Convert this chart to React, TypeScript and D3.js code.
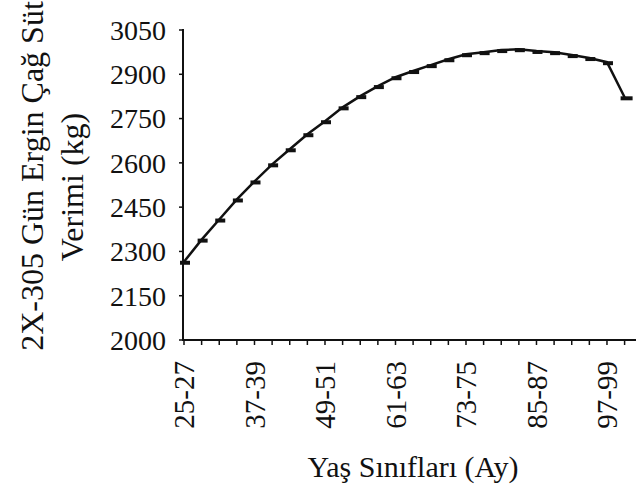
import React from "react";
import * as d3 from "d3";

const categories = [
  "25-27", "28-30", "31-33", "34-36", "37-39", "40-42", "43-45", "46-48",
  "49-51", "52-54", "55-57", "58-60", "61-63", "64-66", "67-69", "70-72",
  "73-75", "76-78", "79-81", "82-84", "85-87", "88-90", "91-93", "94-96",
  "97-99", "100-102",
];
const milkYield = [
  2265, 2340, 2408, 2476, 2537, 2595, 2646, 2697, 2741, 2788, 2826, 2860,
  2890, 2911, 2931, 2951, 2968, 2975, 2982, 2985, 2979, 2975, 2965, 2955,
  2941, 2822,
];
const yTicks = [2000, 2150, 2300, 2450, 2600, 2750, 2900, 3050];
const xLabelEvery = 4;
const yTitleLines = ["2X-305 Gün Ergin Çağ Süt", "Verimi (kg)"];
const xTitle = "Yaş Sınıfları (Ay)";

const W = 636;
const H = 490;
const FONT = "'Liberation Serif', 'DejaVu Serif', serif";

export default function App() {
  const x = d3.scalePoint<string>().domain(categories).range([184, 624.6]).padding(0);
  const y = d3.scaleLinear().domain([2000, 3050]).range([340, 30]);
  const axisY = 340;
  const axisX = 183;

  const line = d3
    .line<number>()
    .x((_, i) => x(categories[i]) as number)
    .y((d) => y(d));

  return (
    <div style={{ position: "fixed", left: 0, top: 0 }}>
      <svg width={W} height={H} style={{ display: "block", background: "#fff" }}>
        {/* Y axis */}
        <line x1={axisX} y1={y(3050) - 1} x2={axisX} y2={axisY + 1} stroke="#111" strokeWidth={2} />
        {yTicks.map((t) => (
          <g key={t}>
            <line x1={axisX - 4} x2={axisX} y1={y(t)} y2={y(t)} stroke="#111" strokeWidth={1.5} />
            <text
              x={166}
              y={y(t)}
              dy="0.35em"
              textAnchor="end"
              fontFamily={FONT}
              fontSize={28}
              fill="#111"
            >
              {t}
            </text>
          </g>
        ))}
        {/* X axis */}
        <line x1={axisX} y1={axisY} x2={W} y2={axisY} stroke="#111" strokeWidth={2} />
        {categories.map((c) => (
          <line
            key={c}
            x1={x(c) as number}
            x2={x(c) as number}
            y1={axisY}
            y2={axisY + 5}
            stroke="#111"
            strokeWidth={1.5}
          />
        ))}
        {categories.map((c, i) =>
          i % xLabelEvery === 0 ? (
            <text
              key={"l" + c}
              transform={`translate(${x(c)},${361}) rotate(-90)`}
              dy="0.35em"
              textAnchor="end"
              fontFamily={FONT}
              fontSize={29}
              fill="#111"
            >
              {c}
            </text>
          ) : null
        )}
        {/* Data line */}
        <path d={line(milkYield) || ""} fill="none" stroke="#111" strokeWidth={2.5} />
        {milkYield.map((v, i) => (
          <rect
            key={"m" + i}
            x={(x(categories[i]) as number) - 4}
            y={y(v) - 1}
            width={i === milkYield.length - 1 ? 12 : 10}
            height={4}
            fill="#111"
          />
        ))}
        {/* Titles */}
        <text
          transform={`translate(43,${176}) rotate(-90)`}
          textAnchor="middle"
          fontFamily={FONT}
          fontSize={32}
          fill="#111"
        >
          {yTitleLines[0]}
        </text>
        <text
          transform={`translate(83,${187}) rotate(-90)`}
          textAnchor="middle"
          fontFamily={FONT}
          fontSize={32}
          fill="#111"
        >
          {yTitleLines[1]}
        </text>
        <text x={413} y={477} textAnchor="middle" fontFamily={FONT} fontSize={30} fill="#111">
          {xTitle}
        </text>
      </svg>
    </div>
  );
}
